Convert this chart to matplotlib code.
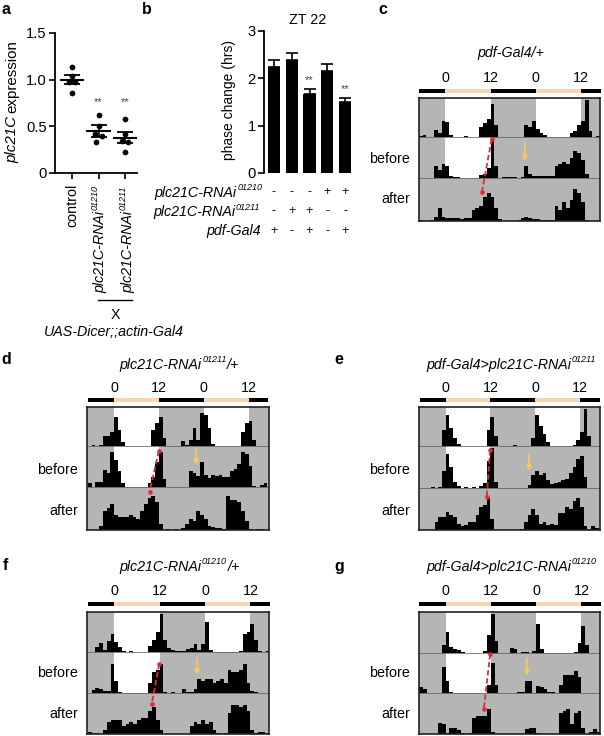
import matplotlib
matplotlib.use('Agg')
import matplotlib.pyplot as plt
from matplotlib.patches import Rectangle

W, H = 604, 736
plt.rcParams['font.family'] = ['Liberation Sans', 'DejaVu Sans']

# panel a
groups = ['control', 'plc21C-RNAi', 'plc21C-RNAi']
expr_points = [[1.14, 1.04, 0.98, 0.97, 0.86],
               [0.62, 0.50, 0.42, 0.40, 0.33],
               [0.58, 0.42, 0.34, 0.33, 0.22]]
expr_jitter = [[0, 0, -0.12, 0.12, 0],
               [0, 0, -0.13, 0.13, -0.08],
               [0, 0, -0.13, 0.13, 0]]
expr_mean = [1.00, 0.45, 0.38]
expr_sem = [0.05, 0.06, 0.06]

# panel b
phase_mean = [2.23, 2.38, 1.67, 2.15, 1.51]
phase_err = [0.15, 0.15, 0.10, 0.15, 0.08]
sign_01210 = ['-', '-', '-', '+', '+']
sign_01211 = ['-', '+', '+', '-', '-']
sign_gal4 = ['+', '-', '+', '-', '+']

# actograms, percent of row height, one value per hour from ZT -7 to ZT 40
hours = list(range(-7, 41))

c_top = [3, 5, 0, 0, 18, 10, 40, 38, 5, 0, 0, 0,
         2, 0, 0, 0, 25, 35, 45, 85, 30, 0, 0, 0,
         0, 1, 0, 0, 30, 25, 40, 20, 10, 5, 1, 0,
         0, 0, 0, 0, 10, 15, 30, 40, 95, 15, 0, 2]
c_before = [0, 0, 0, 0, 30, 20, 33, 30, 5, 2, 2, 0,
            0, 0, 0, 0, 8, 10, 25, 95, 30, 0, 2, 2,
            2, 2, 0, 2, 30, 10, 5, 5, 5, 5, 5, 5,
            30, 33, 40, 35, 50, 65, 62, 45, 10, 0, 0, 0]
c_after = [2, 1, 1, 2, 10, 30, 10, 6, 6, 6, 6, 5,
           6, 8, 25, 30, 35, 55, 65, 55, 30, 5, 1, 0,
           0, 0, 2, 8, 10, 6, 4, 4, 3, 3, 3, 3,
           35, 25, 45, 30, 50, 75, 65, 45, 3, 1, 0, 0]

d_top = [0, 3, 0, 2, 25, 25, 35, 75, 40, 10, 0, 0,
         0, 0, 0, 0, 0, 40, 60, 75, 20, 0, 0, 0,
         0, 13, 2, 15, 45, 15, 85, 80, 45, 5, 0, 0,
         0, 0, 0, 0, 0, 35, 60, 65, 15, 0, 0, 0]
d_before = [10, 0, 12, 12, 42, 35, 85, 65, 40, 10, 0, 0,
            0, 0, 0, 0, 10, 25, 60, 85, 20, 0, 0, 0,
            0, 0, 0, 38, 35, 28, 60, 30, 22, 30, 28, 30,
            25, 25, 40, 45, 55, 85, 80, 50, 3, 0, 6, 10]
d_after = [0, 0, 0, 10, 45, 50, 60, 35, 30, 30, 30, 35,
           30, 25, 45, 60, 75, 80, 65, 15, 0, 3, 0, 3,
           0, 5, 15, 25, 20, 45, 35, 25, 10, 6, 5, 5,
           2, 80, 70, 70, 65, 45, 20, 2, 0, 3, 2, 0]

e_top = [0, 0, 0, 0, 0, 0, 40, 80, 45, 20, 5, 0,
         0, 0, 0, 0, 0, 0, 40, 75, 25, 0, 0, 0,
         0, 2, 0, 0, 0, 0, 20, 80, 50, 30, 10, 0,
         0, 0, 0, 0, 0, 3, 15, 35, 95, 25, 0, 0]
e_before = [0, 0, 0, 3, 0, 3, 40, 80, 50, 15, 5, 0,
            2, 0, 2, 0, 5, 12, 65, 95, 15, 0, 0, 0,
            0, 0, 0, 0, 0, 8, 30, 40, 30, 35, 20, 10,
            12, 15, 20, 22, 35, 50, 70, 75, 25, 0, 0, 0]
e_after = [0, 0, 0, 0, 20, 30, 30, 42, 35, 30, 15, 10,
           12, 18, 20, 35, 55, 60, 75, 25, 0, 0, 0, 0,
           0, 0, 0, 2, 20, 35, 50, 35, 15, 18, 12, 15,
           12, 40, 40, 55, 50, 70, 75, 55, 10, 3, 10, 5]

f_top = [0, 0, 12, 22, 5, 28, 45, 25, 12, 2, 0, 3,
         0, 0, 0, 0, 15, 30, 50, 95, 30, 10, 5, 2,
         2, 3, 8, 10, 20, 5, 20, 75, 5, 0, 0, 0,
         0, 0, 0, 0, 2, 45, 50, 70, 30, 3, 0, 2]
f_before = [0, 7, 12, 10, 5, 5, 70, 30, 3, 0, 0, 0,
            0, 0, 0, 0, 25, 50, 55, 70, 3, 0, 3, 0,
            0, 10, 2, 2, 10, 35, 30, 35, 35, 25, 30, 35,
            25, 55, 50, 50, 55, 70, 25, 5, 2, 0, 0, 0]
f_after = [5, 3, 2, 0, 10, 30, 35, 33, 35, 20, 25, 30,
           25, 35, 40, 40, 55, 65, 35, 10, 0, 0, 0, 0,
           0, 0, 0, 20, 30, 25, 35, 25, 30, 10, 2, 0,
           2, 50, 70, 70, 65, 70, 55, 10, 3, 5, 5, 3]

g_top = [0, 0, 0, 0, 0, 0, 20, 50, 15, 10, 8, 2,
         0, 0, 0, 0, 0, 5, 45, 95, 30, 0, 0, 0,
         12, 10, 0, 2, 2, 0, 5, 70, 10, 0, 0, 0,
         0, 0, 0, 0, 0, 2, 25, 65, 20, 0, 0, 0]
g_before = [15, 10, 0, 0, 1, 0, 65, 30, 2, 0, 0, 0,
            0, 0, 0, 0, 0, 0, 20, 75, 20, 0, 0, 0,
            0, 0, 3, 3, 30, 30, 0, 18, 15, 10, 2, 2,
            0, 20, 45, 45, 45, 55, 40, 0, 0, 0, 0, 0]
g_after = [0, 0, 0, 0, 1, 28, 25, 2, 15, 15, 10, 2,
           0, 3, 40, 45, 45, 45, 60, 5, 0, 0, 0, 0,
           0, 0, 0, 0, 12, 15, 15, 2, 0, 0, 0, 0,
           0, 50, 55, 60, 25, 50, 55, 15, 0, 5, 12, 5]

# red dashed phase line (ZT) and yellow arrow (ZT)
red_start = [12.3, 12.0, 11.9, 11.9, 11.8]
red_end = [9.7, 9.5, 11.0, 9.9, 10.1]
arrow_zt = [21.1, 22.0, 22.3, 21.9, 21.5]

panels = [
    dict(letter='c', rows=(c_top, c_before, c_after), title=[('pdf-Gal4/+', 0)],
         frame=(419, 600, 98, 221), base=(137, 178, 221), zero=445.3, perh=3.77,
         title_y=53, tick_y=78, bar_y=(89, 93), labels=(159, 199), right=410,
         red_y=(139, 192), arrow=(.87, .41)),
    dict(letter='d', rows=(d_top, d_before, d_after),
         title=[('plc21C-RNAi', 0), ('01211', 1), ('/+', 0)],
         frame=(87, 269, 407, 530), base=(446, 487, 530), zero=114, perh=3.74,
         title_y=365, tick_y=388, bar_y=(398, 402), labels=(470, 511), right=78,
         red_y=(451, 492), arrow=(.94, .54)),
    dict(letter='e', rows=(e_top, e_before, e_after),
         title=[('pdf-Gal4>plc21C-RNAi', 0), ('01211', 1)],
         frame=(419, 600, 407, 530), base=(446, 488, 530), zero=445.7, perh=3.73,
         title_y=365, tick_y=388, bar_y=(398, 402), labels=(470, 511), right=410,
         red_y=(450, 497), arrow=(.80, .40)),
    dict(letter='f', rows=(f_top, f_before, f_after),
         title=[('plc21C-RNAi', 0), ('01210', 1), ('/+', 0)],
         frame=(87, 269, 612, 734), base=(652, 693, 734), zero=114.3, perh=3.78,
         title_y=567, tick_y=591, bar_y=(602, 606), labels=(673, 714), right=78,
         red_y=(664, 704), arrow=(.85, .44)),
    dict(letter='g', rows=(g_top, g_before, g_after),
         title=[('pdf-Gal4>plc21C-RNAi', 0), ('01210', 1)],
         frame=(419, 600, 612, 734), base=(653, 693, 734), zero=445.7, perh=3.77,
         title_y=567, tick_y=591, bar_y=(602, 606), labels=(673, 714), right=410,
         red_y=(654, 709), arrow=(.87, .44)),
]

GREY = '#b5b5b5'
PEACH = '#f8d5b0'
YELLOW = '#f6cb55'
RED = '#e5283c'
FS = 10.3
SUP = 6.5

fig = plt.figure(figsize=(W / 100, H / 100), dpi=100)
renderer = fig.canvas.get_renderer()


def px(x, y):
    return x / W, 1 - y / H


def put(x, y, s, **kw):
    kw.setdefault('fontsize', FS)
    kw.setdefault('ha', 'center')
    kw.setdefault('va', 'center')
    return fig.text(*px(x, y), s, **kw)


def rect_axes(left, right, top, bottom):
    return fig.add_axes([left / W, 1 - bottom / H, (right - left) / W, (bottom - top) / H])


def size_of(parts):
    total = 0
    for s, sup in parts:
        t = fig.text(0, 0, s, fontsize=SUP if sup else FS, style='italic')
        total += t.get_window_extent(renderer).width + 0.6
        t.remove()
    return total


def chain(parts, x, y, align='center', rot=False):
    # pieces of italic text with raised numbers, laid out one after the other
    total = size_of(parts)
    pos = {'center': -total / 2, 'right': -total, 'left': 0}[align]
    for s, sup in parts:
        lift = 5 if sup else 0
        if rot:
            t = put(x - lift, y - pos, s, rotation=90, style='italic', ha='center', va='bottom',
                    fontsize=SUP if sup else FS)
            pos += t.get_window_extent(renderer).height + 0.6
        else:
            t = put(x + pos, y - lift, s, style='italic', ha='left',
                    fontsize=SUP if sup else FS)
            pos += t.get_window_extent(renderer).width + 0.6


# panel a
ax = rect_axes(55, 137, 33, 173)
ax.set_xlim((55 - 72) / 26.5, (137 - 72) / 26.5)
ax.set_ylim(0, 1.5)
for i, vals in enumerate(expr_points):
    ax.scatter([i + j for j in expr_jitter[i]], vals, s=17, color='black', zorder=3, linewidths=0)
    ax.plot([i - 0.43, i + 0.43], [expr_mean[i]] * 2, color='black', lw=1.5)
    ax.errorbar(i, expr_mean[i], yerr=expr_sem[i], color='black', capsize=5.5, lw=1.2, capthick=1.3)
ax.text(1, 0.76, '**', ha='center', va='center', fontsize=8, color='#444444')
ax.text(2, 0.76, '**', ha='center', va='center', fontsize=8, color='#444444')
ax.set_xticks(range(3))
ax.set_xticklabels([])
ax.set_yticks([0, 0.5, 1.0, 1.5])
ax.set_yticklabels(['0', '0.5', '1.0', '1.5'], fontsize=FS + 0.3)
ax.tick_params(length=4, width=1.2, pad=2)
ax.spines[['top', 'right']].set_visible(False)
ax.spines[['left', 'bottom']].set_linewidth(1.3)
put(72, 205, groups[0], rotation=90)
chain([(groups[1], 0), ('01210', 1)], 100.5, 293, align='left', rot=True)
chain([(groups[2], 0), ('01211', 1)], 128, 293, align='left', rot=True)
fig.add_artist(plt.Line2D([98 / W, 132 / W], [1 - 300 / H] * 2, color='black', lw=1))
put(115, 315, 'X')
put(114, 332, 'UAS-Dicer;;actin-Gal4', style='italic')
t = put(12, 163, 'plc21C', rotation=90, style='italic', va='bottom', fontsize=10.9)
put(12, 163 - t.get_window_extent(renderer).height - 3, 'expression', rotation=90, va='bottom', fontsize=10.9)

# panel b
ax = rect_axes(264, 354, 31, 173)
ax.set_xlim((264 - 274) / 17.75, (354 - 274) / 17.75)
ax.set_ylim(0, 3)
ax.bar(range(5), phase_mean, width=0.68, color='black')
ax.errorbar(range(5), phase_mean, yerr=[[0] * 5, phase_err], fmt='none', ecolor='black',
            capsize=4, lw=1.2, capthick=1.2)
ax.text(2, 1.97, '**', ha='center', va='center', fontsize=8, color='#444444')
ax.text(4, 1.77, '**', ha='center', va='center', fontsize=8, color='#444444')
ax.set_xticks([])
ax.set_yticks([0, 1, 2, 3])
ax.set_yticklabels(['0', '1', '2', '3'], fontsize=FS + 0.3)
ax.tick_params(length=4, width=1.2, pad=2)
ax.spines[['top', 'right', 'bottom']].set_visible(False)
ax.spines['left'].set_linewidth(1.3)
put(308, 20, 'ZT 22')
put(229, 100, 'phase change (hrs)', rotation=90, fontsize=10)
chain([('plc21C-RNAi', 0), ('01210', 1)], 263, 193, align='right')
chain([('plc21C-RNAi', 0), ('01211', 1)], 261, 212, align='right')
chain([('pdf-Gal4', 0)], 261, 231, align='right')
for i in range(5):
    x = 274 + 17.75 * i
    put(x, 192, sign_01210[i], fontsize=9)
    put(x, 211, sign_01211[i], fontsize=9)
    put(x, 231, sign_gal4[i], fontsize=9)

# panel letters
for s, x, y in [('a', 6, 9), ('b', 147, 9), ('c', 383, 9), ('d', 6, 360),
                ('e', 339, 360), ('f', 5, 566), ('g', 339, 566)]:
    put(x, y, s, fontweight='bold', fontsize=11.5)

# actograms
for k, p in enumerate(panels):
    left, right, top, bottom = p['frame']
    ax = rect_axes(left, right, top, bottom)
    ax.set_xlim((left - p['zero']) / p['perh'], (right - p['zero']) / p['perh'])
    ax.set_ylim(bottom, top)
    ax.set_facecolor(GREY)
    ax.set_xticks([])
    ax.set_yticks([])
    for s in ax.spines.values():
        s.set_linewidth(1.2)
        s.set_color('#222222')
    b1, b2, b3 = p['base']
    # lights-on windows
    ax.add_patch(Rectangle((0, top), 12, b2 - top, color='white', lw=0))
    ax.add_patch(Rectangle((24, top), 12, b1 - top, color='white', lw=0))
    tops = (top, b1, b2)
    for row, vals in enumerate(p['rows']):
        rh = p['base'][row] - tops[row]
        ax.bar(hours, [-v / 100 * rh for v in vals], width=1, align='edge',
               bottom=p['base'][row], color='black', lw=0)
    for b in (b1, b2):
        ax.axhline(b, color='#555555', lw=0.5)
    # red line
    ys = p['red_y']
    ax.plot([red_start[k], red_end[k]], ys, color=RED, lw=1.3, ls=(0, (3, 1.5)))
    ax.scatter([red_start[k], red_end[k]], ys, s=11, color=RED, zorder=5, lw=0)
    # yellow arrow
    rh = b2 - b1
    ax.annotate('', xy=(arrow_zt[k], b2 - p['arrow'][1] * rh),
                xytext=(arrow_zt[k], b2 - p['arrow'][0] * rh),
                arrowprops=dict(arrowstyle='-|>', color=YELLOW, lw=1.2, mutation_scale=7,
                                shrinkA=0, shrinkB=0))
    # light/dark bar
    y0, y1 = p['bar_y']
    edges = [(-7, 0, 'black'), (0, 12, PEACH), (12, 24, 'black'), (24, 36, PEACH), (36, 41.3, 'black')]
    for a, b, col in edges:
        ax.add_patch(Rectangle((a, y0), b - a, y1 - y0, color=col, lw=0, clip_on=False))
    for zt, lab in [(0, '0'), (12, '12'), (24, '0'), (36, '12')]:
        put(p['zero'] + zt * p['perh'], p['tick_y'], lab)
    chain(p['title'], (left + right) / 2 + 2, p['title_y'])
    put(p['right'], p['labels'][0], 'before', ha='right')
    put(p['right'], p['labels'][1], 'after', ha='right')

fig.savefig('out.png', dpi=100)
